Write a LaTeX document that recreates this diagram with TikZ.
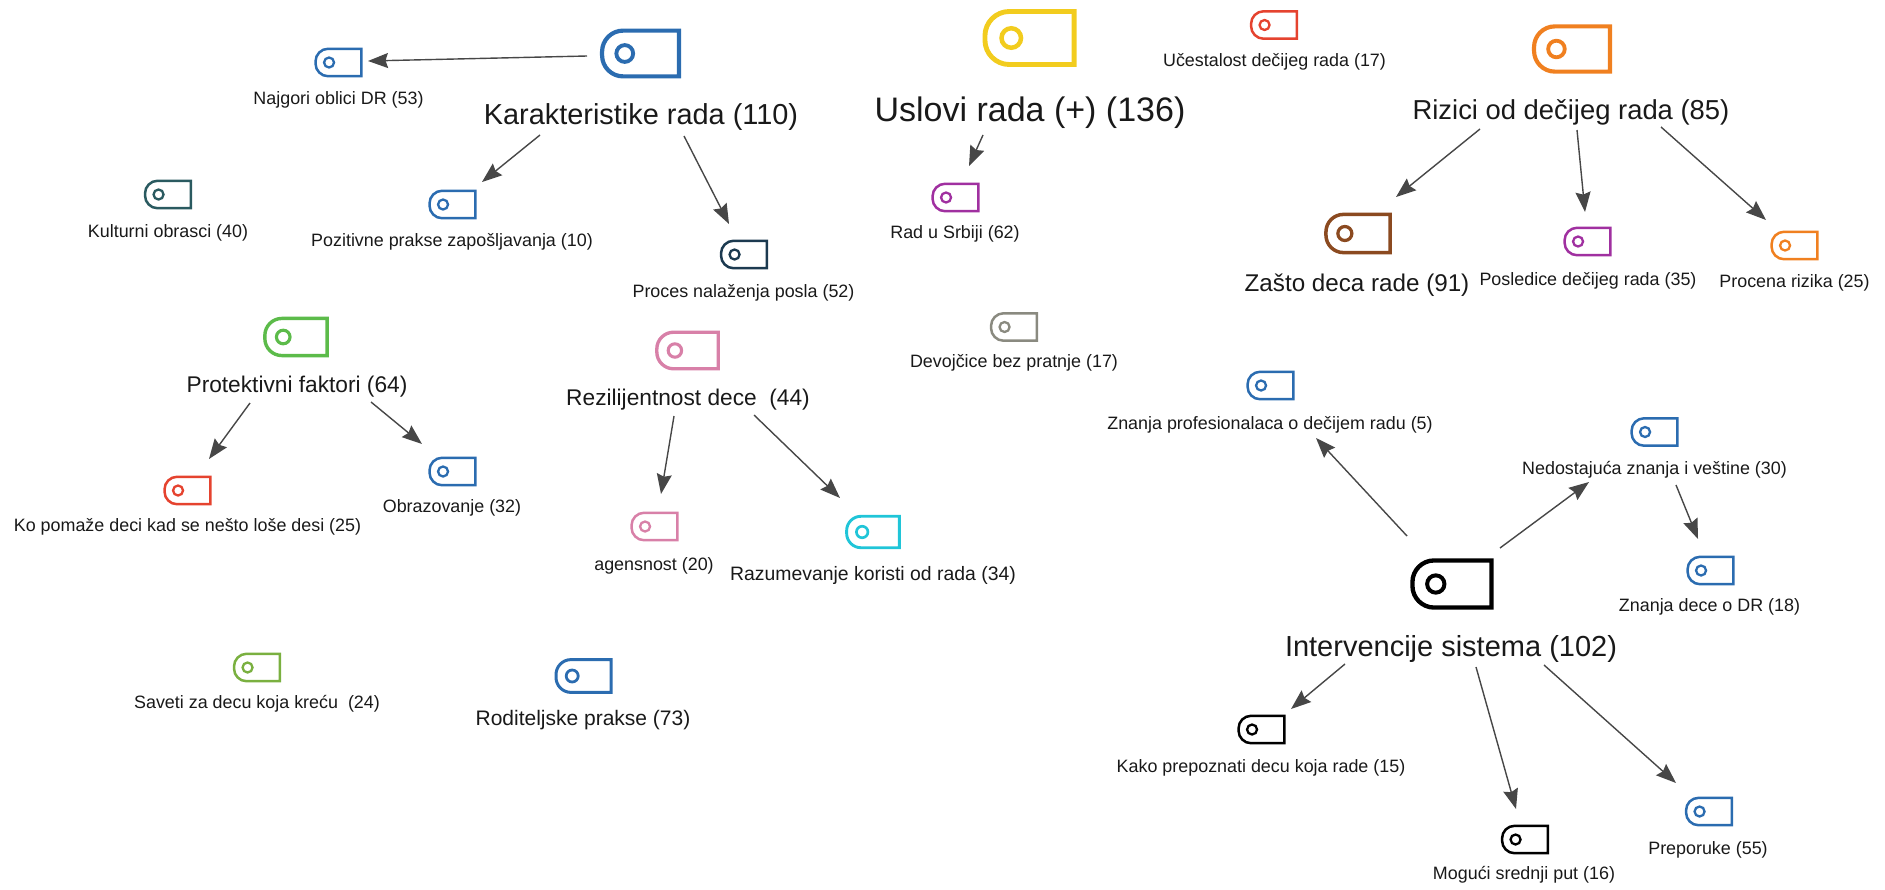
\documentclass[tikz,border=0pt]{standalone}
\usepackage{fontspec}
\setmainfont{Liberation Sans}
\usetikzlibrary{arrows.meta}
\definecolor{cblue}{HTML}{2B6CB0}
\definecolor{cteal}{HTML}{2A5A60}
\definecolor{cnavy}{HTML}{1C3A50}
\definecolor{cyellow}{HTML}{F2CC1E}
\definecolor{cred}{HTML}{E5432F}
\definecolor{corange}{HTML}{F08020}
\definecolor{cpurple}{HTML}{A030A0}
\definecolor{cbrown}{HTML}{8B4A20}
\definecolor{cgray}{HTML}{8A8A80}
\definecolor{cgreen}{HTML}{5CBB4A}
\definecolor{cpink}{HTML}{D880A8}
\definecolor{ccyan}{HTML}{20C5D8}
\definecolor{clime}{HTML}{7AB040}
\tikzset{
    >={Stealth[length=20pt, width=15pt, inset=2.5pt]},
    tagbox/.style={inner sep=0pt, minimum width=45.5*#1 pt, minimum height=27*#1 pt},
    codelabel/.style={inner sep=0pt, text=black!90, font=\fontsize{#1}{#1}\selectfont},
    link/.style={draw=black!72, line width=1.4pt},
}
\begin{document}
\begin{tikzpicture}[x=1pt, y=-1pt]
    \useasboundingbox (0,0) rectangle (1885,889);
    \foreach \n/\x/\y/\s/\c/\lx/\ly/\f/\t [evaluate=\s as \r using 12.5*\s] in {
        Kar/640.5/53.5/1.68/cblue/641/117/28.9/{Karakteristike rada (110)},
        Naj/338.5/62.5/1/cblue/338.5/100/17.9/{Najgori oblici DR (53)},
        Poz/452.5/204.5/1/cblue/452/241.5/17.9/{Pozitivne prakse zapošljavanja (10)},
        Pro/744/254.5/1/cnavy/743.5/292.5/17.9/{Proces nalaženja posla (52)},
        Kul/168/194.5/1/cteal/168/232.5/17.9/{Kulturni obrasci (40)},
        Usl/1029.5/38/1.95/cyellow/1030/113/34/{Uslovi rada (+) (136)},
        Uce/1274/25/1/cred/1274.5/62/17.9/{Učestalost dečijeg rada (17)},
        Riz/1572/49/1.66/corange/1571/112/27.4/{Rizici od dečijeg rada (85)},
        Rad/955.5/197.5/1/cpurple/955/233.5/17.9/{Rad u Srbiji (62)},
        Zas/1358/233.5/1.4/cbrown/1357/285.5/24.2/{Zašto deca rade (91)},
        Pos/1587.5/241.5/1/cpurple/1588/280.5/17.9/{Posledice dečijeg rada (35)},
        Prc/1794.5/245.5/1/corange/1794.5/282.5/17.9/{Procena rizika (25)},
        Dev/1014/327/1/cgray/1014/363/17.9/{Devojčice bez pratnje (17)},
        Prt/296/337/1.36/cgreen/297/386.5/22.7/{Protektivni faktori (64)},
        Rez/687.5/350.5/1.34/cpink/688/399.5/22.7/{Rezilijentnost dece\ \ (44)},
        Zpr/1270.5/385.5/1/cblue/1270/424.5/17.9/{Znanja profesionalaca o dečijem radu (5)},
        Ned/1654.5/432/1/cblue/1654.5/469.5/17.9/{Nedostajuća znanja i veštine (30)},
        Obr/452.5/471.5/1/cblue/452/507.5/17.9/{Obrazovanje (32)},
        Kop/187.5/490.5/1/cred/187.5/527/17.9/{Ko pomaže deci kad se nešto loše desi (25)},
        Age/654.5/526.5/1/cpink/654/565.5/17.9/{agensnost (20)},
        Raz/873/532/1.15/ccyan/873/575.5/19.4/{Razumevanje koristi od rada (34)},
        Zde/1710.5/570.5/1/cblue/1709.5/607/17.9/{Znanja dece o DR (18)},
        Int/1452/584/1.73/black/1451/648.5/29/{Intervencije sistema (102)},
        Sav/257/667.5/1/clime/257/703.5/17.9/{Saveti za decu koja kreću\ \ (24)},
        Rod/583.5/676/1.2/cblue/583/720.5/21/{Roditeljske prakse (73)},
        Kak/1261.5/729.5/1/black/1261/767.5/17.9/{Kako prepoznati decu koja rade (15)},
        Prp/1709/811.5/1/cblue/1708/849.5/17.9/{Preporuke (55)},
        Mog/1525/839.5/1/black/1524/874.5/17.9/{Mogući srednji put (16)}
    } {
        \node[tagbox=\s] (t\n) at (\x,\y) {};
        \draw[\c, line width=2.5*\s pt] (t\n.north east) -- (t\n.south east)
            [rounded corners=\r pt] -- (t\n.south west) -- (t\n.north west)
            [sharp corners] -- cycle;
        \draw[\c, line width=2.3*\s pt] (t\n.west) ++(13.5*\s,0) circle[radius=5*\s];
        \node[codelabel=\f] (l\n) at (\lx,\ly) {\t};
    }
    % arrows: source, offset, target, offset
    \foreach \a/\ax/\ay/\b/\bx/\by in {
        tKar/-53.5/2.5/tNaj/29.5/-1.5,
        lKar/-101/18/tPoz/29.5/-22.5,
        lKar/43/19/tPro/-15/-30.5,
        lUsl/-47/22/tRad/13.5/-31.5,
        lRiz/-91/17/tZas/38/-36.5,
        lRiz/6/18/tPos/-2.5/-29.5,
        lRiz/90/15/tPrc/-28.5/-25.5,
        lPrt/-47/16.5/tKop/21.5/-31.5,
        lPrt/74/15.5/tObr/-30.5/-27.5,
        lRez/-14/16.5/tAge/6.5/-32.5,
        lRez/66/15.5/tRaz/-33/-34,
        tInt/-45/-48/tZpr/45.5/52.5,
        tInt/48/-36/lNed/-65.5/12.5,
        lNed/21.5/15.5/tZde/-12.5/-31.5,
        lInt/-106/15.5/tKak/29.5/-20.5,
        lInt/25/18.5/tMog/-9/-30.5,
        lInt/93/16.5/tPrp/-33/-28.5
    }
        \draw[->, link] ([shift={(\ax,\ay)}]\a.center) -- ([shift={(\bx,\by)}]\b.center);
\end{tikzpicture}
\end{document}
